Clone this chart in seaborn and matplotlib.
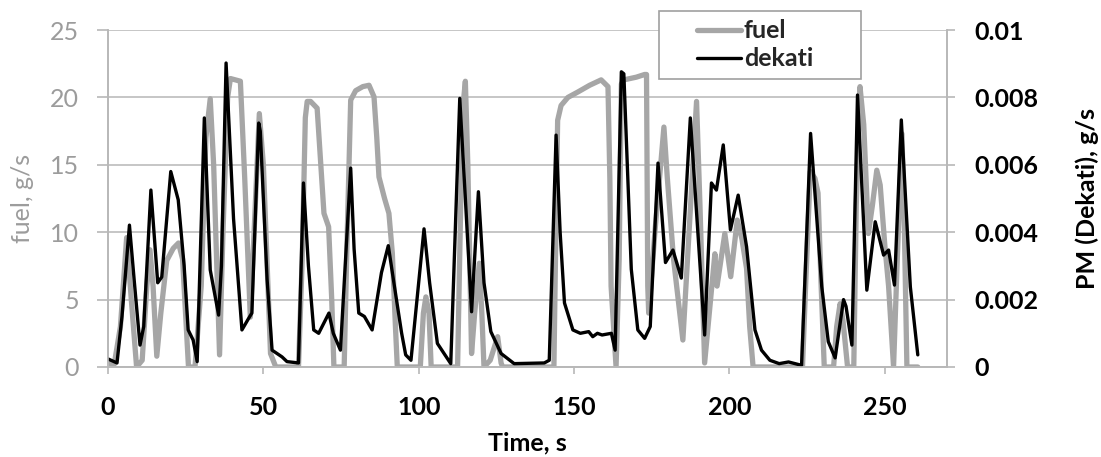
import matplotlib
matplotlib.use("Agg")
import matplotlib.pyplot as plt
from matplotlib.patches import Rectangle
import pandas as pd
import seaborn as sns

# Fuel flow trace (time in s, fuel in g/s)
fuel_time = [0, 2, 4, 6, 7.5, 9.2, 11, 12.5, 13.5, 14.5, 15.7, 17, 18.9, 21, 22.7, 24, 25.9,
             28, 30, 31.5, 32.9, 34, 35.9, 37, 38.5, 39.4, 42.6, 44, 45.8, 47, 48.7, 50, 52.3,
             54, 61.3, 62.5, 63.5, 64.1, 65.2, 67.3, 68.5, 69.5, 71, 72, 72.7, 76, 77, 78.1,
             79.7, 82, 84, 85.6, 86.5, 87.2, 89, 90.4, 91.5, 92.5, 93.1, 100.5, 101.5, 102.3,
             103.3, 104, 112.5, 113.5, 114.3, 115, 115.8, 117, 118, 119.5, 120.3, 121, 123,
             125.4, 126.5, 127, 143.5, 144, 144.7, 145.8, 148, 151.2, 155, 158.7, 160.9, 161.5,
             161.9, 163.5, 164.5, 165.2, 166, 170, 172.7, 173.3, 173.7, 174, 176, 178.9, 180,
             182, 185, 187, 189.4, 190.5, 192, 193.5, 195.3, 196, 198.5, 200.4, 202.5, 204,
             205.5, 206.5, 207.6, 223.5, 224.5, 226, 227.5, 228.5, 229.5, 230.5, 233.5, 234.5,
             235.6, 236.5, 238, 240, 240.8, 242, 243.2, 244.7, 246, 247.4, 248.5, 250, 251.2,
             252.8, 254, 255.5, 256.3, 257.1, 260.6]
fuel_gs = [0.3, 0.2, 3, 9.6, 5, 0, 0.5, 6, 8.7, 6, 0.8, 4, 7.9, 8.8, 9.2, 8, 0,
           0, 6, 17, 19.9, 15, 0.9, 10, 20, 21.4, 21.2, 14, 3.7, 10, 18.8, 15, 1.0,
           0, 0, 8, 18.5, 19.7, 19.7, 19.2, 15, 11.4, 10.4, 5, 0, 0, 10, 19.8,
           20.5, 20.8, 20.9, 20.05, 17, 14.1, 12.5, 11.4, 8.45, 3, 0, 0, 4, 5.2,
           4, 0, 0, 12, 19.5, 21.2, 15, 1.0, 4, 7.7, 4, 0, 0.5,
           2.25, 0.3, 0, 0, 8, 18.3, 19.4, 20.0, 20.4, 20.9, 21.3, 20.8, 14,
           6, 0, 8, 21.0, 21.3, 21.5, 21.7, 21.7, 6, 4, 10, 17.8, 14,
           8, 2.0, 10, 19.7, 12, 0.3, 4, 8.4, 6, 9.9, 6.7, 10.9, 9.5,
           7.3, 3, 0, 0, 6, 14.5, 14, 12.9, 6, 0, 0, 3,
           4.7, 3.5, 0, 0, 12, 20.8, 18, 9.9, 12, 14.6, 13.5, 9, 6,
           0, 8, 17.3, 10, 0, 0]

# Particulate mass trace from the Dekati instrument (time in s, PM in g/s)
pm_time = [0, 2.9, 4.5, 6.9, 8.5, 10.3, 11.5, 13.8, 16, 17.3, 20.2, 22.6, 24.5, 25.8, 27.4,
           28.7, 31, 32.9, 35.6, 36.5, 38, 40.4, 43.1, 45.3, 46.3, 48.5, 49, 51.2, 52.8, 56,
           57.6, 61.3, 62.9, 64.5, 66.2, 67.8, 71.1, 72.5, 74.8, 78.1, 79.2, 80.7, 82.5, 85,
           88, 90.2, 92, 94.5, 95.8, 97.5, 101.7, 103.5, 106, 110.3, 113.2, 115, 117, 119.2,
           121, 123.2, 126.5, 130.7, 140.4, 142, 144.2, 145.5, 146.9, 149.6, 152, 154.7, 156,
           157.5, 159, 162, 163.2, 165.2, 166, 168.4, 170.5, 172.7, 174.5, 177, 179.4, 181.8,
           184.5, 187.4, 192, 194.2, 195.8, 198, 200.3, 202.8, 205.5, 208.2, 210.3, 213, 216,
           219, 223.2, 226.1, 229.7, 231.8, 234, 236.7, 237.5, 239.4, 241.2, 244.2, 246.9,
           249.6, 251.2, 253.1, 255.3, 258.2, 260.6]
pm_gs = [0.00024, 0.00012, 0.0015, 0.00421, 0.0025, 0.00065, 0.0012, 0.00525, 0.0025, 0.00267,
         0.0058, 0.00496, 0.003, 0.0011, 0.0008, 0.00016, 0.00739, 0.00288, 0.00154, 0.003,
         0.00902, 0.0044, 0.0011, 0.00145, 0.0016, 0.00724, 0.0070, 0.0026, 0.0005, 0.0003,
         0.00016, 0.00012, 0.00546, 0.003, 0.0011, 0.001, 0.0016, 0.001, 0.0005, 0.0059,
         0.0035, 0.0016, 0.0015, 0.0011, 0.0028, 0.0036, 0.0025, 0.001, 0.00036, 0.0002,
         0.0041, 0.0025, 0.0007, 0.0001, 0.00797, 0.005, 0.00164, 0.0052, 0.0025, 0.00105,
         0.0004, 0.0001, 0.00012, 0.0002, 0.00688, 0.004, 0.0019, 0.0011, 0.001, 0.00105,
         0.0009, 0.001, 0.00095, 0.001, 0.0005, 0.00876, 0.0087, 0.0029, 0.0011, 0.00085,
         0.0012, 0.00605, 0.0031, 0.00347, 0.00264, 0.00739, 0.00095, 0.00546, 0.00525,
         0.00659, 0.00407, 0.0051, 0.00357, 0.0011, 0.0005, 0.0002, 0.0001, 0.00015, 0.00005,
         0.00693, 0.00238, 0.00075, 0.00027, 0.002, 0.0018, 0.00065, 0.00807, 0.00228,
         0.00431, 0.00332, 0.00347, 0.00243, 0.00733, 0.00238, 0.00036]

x_ticks = [0, 50, 100, 150, 200, 250]
fuel_ticks = [0, 5, 10, 15, 20, 25]
pm_ticks = [0, 0.002, 0.004, 0.006, 0.008, 0.01]
pm_tick_labels = ["0", "0.002", "0.004", "0.006", "0.008", "0.01"]

FUEL_GREY = "#a6a6a6"
LABEL_GREY = "#9c9c9c"
GRID_GREY = "#c6c6c6"
SPINE_GREY = "#b8b8b8"
FS = 18

sns.set_theme(style="white")
plt.rcParams["font.family"] = ["Lato", "DejaVu Sans"]

fuel_df = pd.DataFrame({"time": fuel_time, "fuel": fuel_gs})
pm_df = pd.DataFrame({"time": pm_time, "pm": pm_gs})

fig = plt.figure(figsize=(11.01, 4.57), dpi=100)
ax = fig.add_axes([108 / 1101, 90 / 457, 839 / 1101, 337 / 457])
ax2 = ax.twinx()

sns.lineplot(data=fuel_df, x="time", y="fuel", ax=ax, color=FUEL_GREY, linewidth=3.8,
             sort=False, estimator=None, legend=False,
             solid_joinstyle="round", solid_capstyle="round")
sns.lineplot(data=pm_df, x="time", y="pm", ax=ax2, color="black", linewidth=2.4,
             sort=False, estimator=None, legend=False,
             solid_joinstyle="round", solid_capstyle="round")

ax.set_xlim(0, 270)
ax.set_ylim(0, 25)
ax2.set_ylim(0, 0.01)

ax.set_xticks(x_ticks)
ax.set_yticks(fuel_ticks)
ax2.set_yticks(pm_ticks)
ax2.set_yticklabels(pm_tick_labels)

ax.yaxis.grid(True, color=GRID_GREY, linewidth=1.4)
ax.xaxis.grid(False)
ax.set_axisbelow(True)

for a in (ax, ax2):
    a.spines["top"].set_visible(False)
    for s in ("left", "right", "bottom"):
        a.spines[s].set_color(SPINE_GREY)
        a.spines[s].set_linewidth(1.2)

ax.tick_params(axis="y", which="both", left=True, length=8, width=1.2, color=SPINE_GREY,
               pad=13, labelsize=FS, labelcolor=LABEL_GREY)
ax.tick_params(axis="x", bottom=True, length=5, width=1.2, color=SPINE_GREY,
               pad=16, labelsize=FS, labelcolor="black")
ax2.tick_params(axis="y", right=True, length=6, width=1.2, color=SPINE_GREY,
                pad=14, labelsize=FS, labelcolor="black")
for lbl in ax.get_xticklabels() + ax2.get_yticklabels():
    lbl.set_fontweight("bold")

ax.set_xlabel("Time, s", fontsize=FS, fontweight="bold", color="black", va="center")
ax.xaxis.set_label_coords(0.5, (367 - 443) / 337)
ax.set_ylabel("fuel, g/s", fontsize=FS, color=LABEL_GREY, va="center")
ax.yaxis.set_label_coords((22 - 108) / 839, 0.5)
ax2.set_ylabel("PM (Dekati), g/s", fontsize=FS, fontweight="bold", color="black", va="center")
ax2.yaxis.set_label_coords((1087 - 108) / 839, 0.5)

# Legend box straddling the top edge of the plot area
x0 = (659 - 108) / 839
x1 = (861 - 108) / 839
y1 = (367 - 11) / 337
y0 = (367 - 79) / 337
ax2.add_patch(Rectangle((x0, y0), x1 - x0, y1 - y0, transform=ax2.transAxes,
                        facecolor="white", edgecolor="#a0a0a0", linewidth=1.2,
                        clip_on=False, zorder=4))
handles = [plt.Line2D([], [], color=FUEL_GREY, linewidth=3.8),
           plt.Line2D([], [], color="black", linewidth=2.4)]
leg = ax2.legend(handles, ["fuel", "dekati"], loc="upper left",
                 bbox_to_anchor=((697 - 108) / 839 - 0.012, y1 + 0.005),
                 frameon=False, prop={"size": FS, "weight": "bold"},
                 handlelength=1.75, handletextpad=0.12, labelspacing=0.2,
                 borderaxespad=0)
leg.set_zorder(5)

fig.savefig("out.png", dpi=100)
